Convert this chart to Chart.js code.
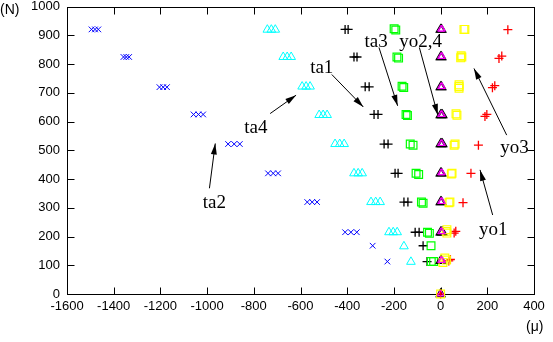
<!DOCTYPE html>
<html lang="en">
<head>
  <meta charset="UTF-8">
  <title>Load vs strain</title>
  <style>
    body {
      margin: 0;
      background: #fff;
    }
    #wrap {
      width: 553px;
      height: 342px;
      position: relative;
    }
    .unit {
      position: absolute;
      font-family: 'Liberation Sans', Arial, sans-serif;
      font-size: 14px;
      color: #000;
    }
  </style>
</head>
<body>
  <div id="wrap">
    <canvas id="chart" width="553" height="342"></canvas>
    <span class="unit" style="left:0px; top:1px;">(N)</span>
    <span class="unit" style="left:526px; top:318px;">(μ)</span>
  </div>

  <script src="https://cdn.jsdelivr.net/npm/chart.js"></script>
  <script>
    // axis ticks
    const xTicks = [-1600, -1400, -1200, -1000, -800, -600, -400, -200, 0, 200, 400];
    const yTicks = [0, 100, 200, 300, 400, 500, 600, 700, 800, 900, 1000];

    // ta2 (blue)
    const ta2X = [-1495, -1480, -1466, -1358, -1346, -1334, -1204, -1188, -1172, -1058, -1037, -1017, -910, -884, -860, -739, -717, -696, -571, -550, -529, -409, -384, -359, -291, -228];
    const ta2Y = [921, 921, 921, 825, 825, 825, 720, 720, 720, 625, 625, 625, 522, 522, 522, 420, 420, 420, 320, 320, 320, 215, 215, 215, 168, 113];

    // ta4 (cyan)
    const ta4X = [-742, -725, -708, -674, -657, -640, -593, -576, -559, -520, -503, -486, -452, -432, -413, -371, -353, -336, -298, -278, -259, -221, -203, -186, -157, -127];
    const ta4Y = [920, 920, 920, 825, 825, 825, 722, 722, 722, 623, 623, 623, 522, 522, 522, 420, 420, 420, 320, 320, 320, 215, 215, 215, 166, 112];

    // ta1 (black plus)
    const ta1X = [-409, -396, -371, -358, -323, -306, -285, -268, -242, -225, -195, -182, -157, -140, -109, -92, -75, -58];
    const ta1Y = [921, 921, 825, 825, 721, 721, 625, 625, 522, 522, 420, 420, 320, 320, 215, 215, 168, 113];

    // ta3 (green)
    const ta3X = [-199, -192, -187, -180, -165, -158, -148, -142, -130, -118, -105, -94, -82, -75, -56, -48, -41, -40, -30];
    const ta3Y = [923, 919, 825, 821, 723, 719, 625, 621, 522, 518, 420, 416, 320, 316, 215, 211, 168, 113, 113];

    // yo2 (black triangles) and yo4 (magenta triangles)
    const yo2X = [0, 4, 0, 4, 0, 4, 0, 4, 8, 0, 4, 8, 0, 4, 0, 4, 0, 4, 8, 0, 4, 0];
    const yo2Y = [920, 920, 825, 825, 720, 720, 623, 623, 623, 522, 522, 522, 420, 420, 320, 320, 215, 215, 215, 115, 115, 0];
    const yo4X = [2, 6, 2, 6, 2, 6, 2, 6, 2, 6, 2, 6, 2, 6, 2, 6, 2, 6, 0];
    const yo4Y = [922, 922, 827, 827, 722, 722, 625, 625, 524, 524, 422, 422, 322, 322, 217, 217, 117, 117, 0];

    // yo3 (yellow)
    const yo3X = [104, 100, 91, 86, 88, 79, 79, 79, 70, 66, 62, 58, 49, 46, 40, 36, 27, 24, 27, 10, 25, 18, 0];
    const yo3Y = [921, 921, 825, 822, 829, 716, 722, 728, 622, 627, 522, 518, 420, 418, 320, 318, 212, 218, 224, 110, 118, 125, 0];

    // yo1 (red)
    const yo1X = [288, 250, 262, 222, 232, 190, 198, 162, 130, 96, 58, 65, 35, 42, 0];
    const yo1Y = [920, 820, 828, 718, 725, 618, 625, 518, 420, 318, 212, 218, 115, 120, 0];

    // curve labels with their arrows, in axis units
    const notes = [
      { text: 'ta2', at: [-969, 318], from: [-990, 368], to: [-965, 524] },
      { text: 'ta4', at: [-791, 576], from: [-730, 628], to: [-619, 692] },
      { text: 'ta1', at: [-509, 785], from: [-466, 764], to: [-331, 651] },
      { text: 'ta3', at: [-276, 876], from: [-264, 858], to: [-184, 655] },
      { text: 'yo2,4', at: [-86, 877], from: [-91, 858], to: [-12, 623] },
      { text: 'yo3', at: [317, 507], from: [283, 553], to: [143, 785] },
      { text: 'yo1', at: [225, 224], from: [223, 275], to: [169, 432] }
    ];

    function points(xs, ys) {
      return xs.map((x, i) => ({ x: x, y: ys[i] }));
    }

    function series(label, xs, ys, style, color, radius, width) {
      return {
        label: label,
        data: points(xs, ys),
        pointStyle: style,
        pointRadius: radius,
        pointHoverRadius: radius,
        borderColor: color,
        backgroundColor: 'rgba(0,0,0,0)',
        pointBorderWidth: width || 1,
        showLine: false,
        clip: false
      };
    }

    // box with inward ticks on all four sides
    const frame = {
      id: 'frame',
      beforeDatasetsDraw(chart) {
        const { ctx, chartArea: a, scales: { x, y } } = chart;
        const L = Math.round(a.left) + 0.5, R = Math.round(a.right) + 0.5;
        const T = Math.round(a.top) + 0.5, B = Math.round(a.bottom) + 0.5;
        const len = 7;
        ctx.save();
        ctx.strokeStyle = '#000';
        ctx.lineWidth = 1;
        ctx.strokeRect(L, T, R - L, B - T);
        ctx.beginPath();
        xTicks.forEach(v => {
          const px = Math.round(x.getPixelForValue(v)) + 0.5;
          ctx.moveTo(px, B); ctx.lineTo(px, B - len);
          ctx.moveTo(px, T); ctx.lineTo(px, T + len);
        });
        yTicks.forEach(v => {
          const py = Math.round(y.getPixelForValue(v)) + 0.5;
          ctx.moveTo(L, py); ctx.lineTo(L + len, py);
          ctx.moveTo(R, py); ctx.lineTo(R - len, py);
        });
        ctx.stroke();
        ctx.restore();
      }
    };

    // curve names and arrows
    const arrows = {
      id: 'arrows',
      afterDatasetsDraw(chart) {
        const { ctx, scales: { x, y } } = chart;
        ctx.save();
        ctx.fillStyle = '#000';
        ctx.strokeStyle = '#000';
        ctx.lineWidth = 1;
        ctx.font = '19px "Liberation Serif", "Times New Roman", serif';
        ctx.textAlign = 'center';
        ctx.textBaseline = 'middle';
        notes.forEach(n => {
          ctx.fillText(n.text, x.getPixelForValue(n.at[0]), y.getPixelForValue(n.at[1]));
          const x0 = x.getPixelForValue(n.from[0]), y0 = y.getPixelForValue(n.from[1]);
          const x1 = x.getPixelForValue(n.to[0]), y1 = y.getPixelForValue(n.to[1]);
          const ang = Math.atan2(y1 - y0, x1 - x0);
          ctx.beginPath();
          ctx.moveTo(x0, y0);
          ctx.lineTo(x1, y1);
          ctx.stroke();
          const hl = 11, hw = 3;
          ctx.beginPath();
          ctx.moveTo(x1, y1);
          ctx.lineTo(x1 - hl * Math.cos(ang) + hw * Math.sin(ang), y1 - hl * Math.sin(ang) - hw * Math.cos(ang));
          ctx.lineTo(x1 - hl * Math.cos(ang) - hw * Math.sin(ang), y1 - hl * Math.sin(ang) + hw * Math.cos(ang));
          ctx.closePath();
          ctx.fill();
        });
        ctx.restore();
      }
    };

    const tickFont = { family: "'Liberation Sans', Arial, sans-serif", size: 13 };

    new Chart(document.getElementById('chart'), {
      type: 'scatter',
      data: {
        datasets: [
          series('yo4', yo4X, yo4Y, 'triangle', '#ff00ff', 4),
          series('yo3', yo3X, yo3Y, 'rect', '#ffff00', 5.5, 1.2),
          series('yo1', yo1X, yo1Y, 'cross', '#ff0000', 4.5, 1.3),
          series('yo2', yo2X, yo2Y, 'triangle', '#000000', 5, 1.3),
          series('ta3', ta3X, ta3Y, 'rect', '#00ff00', 5.5, 1.2),
          series('ta1', ta1X, ta1Y, 'cross', '#000000', 4.5, 1.3),
          series('ta4', ta4X, ta4Y, 'triangle', '#00ffff', 5, 1),
          series('ta2', ta2X, ta2Y, 'crossRot', '#0000ff', 4, 1)
        ]
      },
      options: {
        responsive: false,
        animation: false,
        layout: { padding: { left: 0, top: 6, right: 19, bottom: 0 } },
        plugins: {
          legend: { display: false },
          tooltip: { enabled: false }
        },
        scales: {
          x: {
            type: 'linear',
            min: -1600,
            max: 400,
            grid: { display: false, drawTicks: false },
            border: { display: false },
            afterBuildTicks: s => { s.ticks = xTicks.map(v => ({ value: v })); },
            ticks: { font: tickFont, color: '#000', padding: 5, maxRotation: 0, callback: v => String(v) },
            afterFit: s => { s.height = 48; s.paddingLeft = 0; s.paddingRight = 0; }
          },
          y: {
            type: 'linear',
            min: 0,
            max: 1000,
            grid: { display: false, drawTicks: false },
            border: { display: false },
            afterBuildTicks: s => { s.ticks = yTicks.map(v => ({ value: v })); },
            ticks: { font: tickFont, color: '#000', padding: 7, callback: v => String(v) },
            afterFit: s => { s.width = 67; s.paddingTop = 0; s.paddingBottom = 0; }
          }
        }
      },
      plugins: [frame, arrows]
    });
  </script>
</body>
</html>
